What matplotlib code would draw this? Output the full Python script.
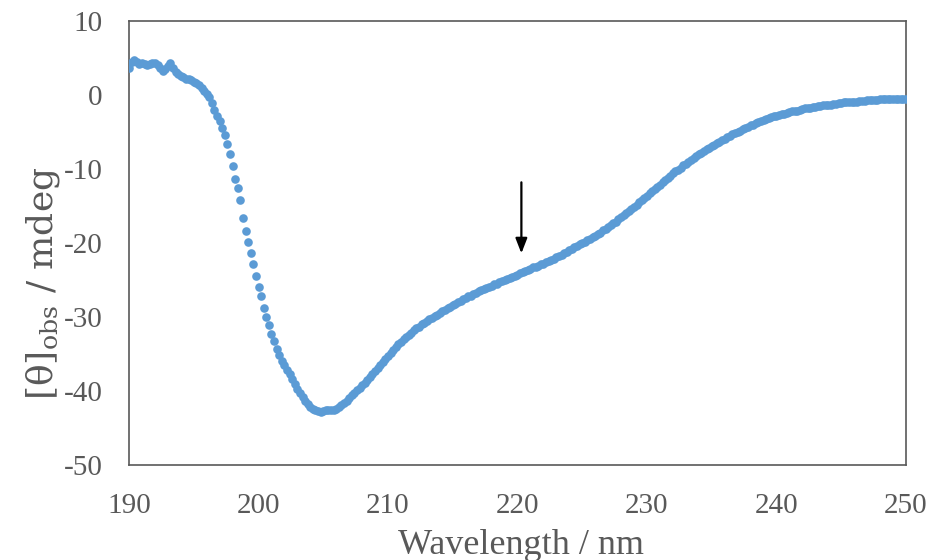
import numpy as np
import matplotlib
matplotlib.use("Agg")
import matplotlib.pyplot as plt

# CD spectrum, 0.2 nm steps from 190 nm
wl_start = 190.0
wl_step = 0.2
theta_obs = [
    3.6, 4.4, 4.7, 4.4, 4.2,          # 190
    4.3, 4.2, 4.1, 4.2, 4.3,          # 191
    4.3, 4.0, 3.7, 3.2, 3.5,          # 192
    3.9, 4.3, 3.6, 3.1, 2.8,          # 193
    2.6, 2.4, 2.2, 2.1, 2.0,          # 194
    1.8, 1.6, 1.3, 1.0, 0.6,          # 195
    0.2, -0.3, -1.1, -2.0, -2.8,      # 196
    -3.5, -4.4, -5.4, -6.6, -8.0,     # 197
    -9.6, -11.3, -12.5, -14.2, -16.6, # 198
    -18.4, -19.8, -21.3, -22.9, -24.4,  # 199
    -25.9, -27.2, -28.8, -30.0, -31.1,  # 200
    -32.3, -33.3, -34.3, -35.1, -35.9,  # 201
    -36.5, -37.1, -37.7, -38.4, -39.1,  # 202
    -39.7, -40.2, -40.8, -41.3, -41.8,  # 203
    -42.1, -42.4, -42.6, -42.7, -42.8,  # 204
    -42.7, -42.6, -42.6, -42.6, -42.5,  # 205
    -42.4, -42.2, -41.9, -41.6, -41.3,  # 206
    -41.0, -40.6, -40.3, -39.9, -39.6,  # 207
    -39.2, -38.9, -38.5, -38.1, -37.7,  # 208
    -37.3, -36.9, -36.5, -36.1, -35.7,  # 209
    -35.3, -34.9, -34.5, -34.1, -33.7,  # 210
    -33.4, -33.0, -32.7, -32.4, -32.1,  # 211
    -31.8, -31.5, -31.3, -31.0, -30.8,  # 212
    -30.5, -30.3, -30.1, -29.9, -29.7,  # 213
    -29.4, -29.2, -29.0, -28.8, -28.6,  # 214
    -28.4, -28.2, -28.0, -27.8, -27.6,  # 215
    -27.4, -27.2, -27.1, -26.9, -26.7,  # 216
    -26.5, -26.4, -26.2, -26.1, -25.9,  # 217
    -25.8, -25.6, -25.5, -25.3, -25.2,  # 218
    -25.0, -24.9, -24.7, -24.6, -24.4,  # 219
    -24.3, -24.1, -23.9, -23.8, -23.6,  # 220
    -23.5, -23.3, -23.2, -23.1, -22.9,  # 221
    -22.8, -22.6, -22.4, -22.3, -22.1,  # 222
    -21.9, -21.7, -21.6, -21.4, -21.2,  # 223
    -21.0, -20.8, -20.6, -20.4, -20.2,  # 224
    -20.0, -19.8, -19.6, -19.4, -19.2,  # 225
    -19.0, -18.8, -18.6, -18.3, -18.1,  # 226
    -17.8, -17.6, -17.3, -17.1, -16.8,  # 227
    -16.5, -16.2, -15.9, -15.7, -15.4,  # 228
    -15.1, -14.8, -14.5, -14.2, -13.9,  # 229
    -13.6, -13.3, -13.0, -12.7, -12.4,  # 230
    -12.1, -11.8, -11.5, -11.2, -10.9,  # 231
    -10.6, -10.3, -10.1, -9.8, -9.5,    # 232
    -9.3, -9.0, -8.8, -8.5, -8.3,       # 233
    -8.0, -7.8, -7.6, -7.3, -7.1,       # 234
    -6.9, -6.7, -6.5, -6.3, -6.1,       # 235
    -5.9, -5.7, -5.5, -5.3, -5.1,       # 236
    -5.0, -4.8, -4.6, -4.4, -4.3,       # 237
    -4.1, -4.0, -3.8, -3.7, -3.5,       # 238
    -3.4, -3.3, -3.1, -3.0, -2.9,       # 239
    -2.8, -2.7, -2.6, -2.5, -2.4,       # 240
    -2.3, -2.2, -2.1, -2.1, -2.0,       # 241
    -1.9, -1.8, -1.8, -1.7, -1.6,       # 242
    -1.6, -1.5, -1.5, -1.4, -1.4,       # 243
    -1.3, -1.3, -1.2, -1.2, -1.1,       # 244
    -1.1, -1.0, -1.0, -1.0, -0.9,       # 245
    -0.9, -0.9, -0.8, -0.8, -0.8,       # 246
    -0.7, -0.7, -0.7, -0.7, -0.7,       # 247
    -0.6, -0.6, -0.6, -0.6, -0.6,       # 248
    -0.6, -0.6, -0.6, -0.6, -0.6,       # 249
    -0.6,                               # 250
]
wavelength = wl_start + wl_step * np.arange(len(theta_obs))

x_ticks = [190, 200, 210, 220, 230, 240, 250]
y_ticks = [10, 0, -10, -20, -30, -40, -50]

# arrow marking 220 nm
arrow_x = 220.3
arrow_from = -11.8
arrow_to = -21.4

plt.rcParams['font.family'] = ['Liberation Serif', 'DejaVu Serif']
plt.rcParams['mathtext.fontset'] = 'dejavuserif'
plt.rcParams['axes.unicode_minus'] = False

text_col = '#595959'

fig = plt.figure(figsize=(9.29, 5.6), dpi=100)
ax = fig.add_axes([0.1389, 0.1696, 0.8363, 0.7929])

ax.plot(wavelength, theta_obs, 'o', color='#5B9BD5', markersize=6.2,
        markeredgewidth=0, zorder=3)

ax.annotate('', xy=(arrow_x, arrow_to), xytext=(arrow_x, arrow_from),
            arrowprops=dict(arrowstyle='-|>,head_width=0.35,head_length=0.9',
                            color='black', lw=1.6, shrinkA=0, shrinkB=0))

ax.set_xlim(190, 250)
ax.set_ylim(-50, 10)
ax.set_xticks(x_ticks)
ax.set_yticks(y_ticks)
ax.tick_params(length=0, labelsize=21, labelcolor=text_col)
ax.tick_params(axis='x', pad=20)
ax.tick_params(axis='y', pad=19)

for s in ax.spines.values():
    s.set_color('#595959')
    s.set_linewidth(1.2)

ax.set_xlabel('Wavelength / nm', fontsize=26, color=text_col)
ax.set_ylabel(r'[θ]$_{\mathrm{obs}}$ / mdeg', fontsize=26, color=text_col,
              family='DejaVu Serif')
ax.xaxis.set_label_coords(0.505, -0.145)
ax.yaxis.set_label_coords(-0.086, 0.41)

plt.savefig('out.png', dpi=100)
